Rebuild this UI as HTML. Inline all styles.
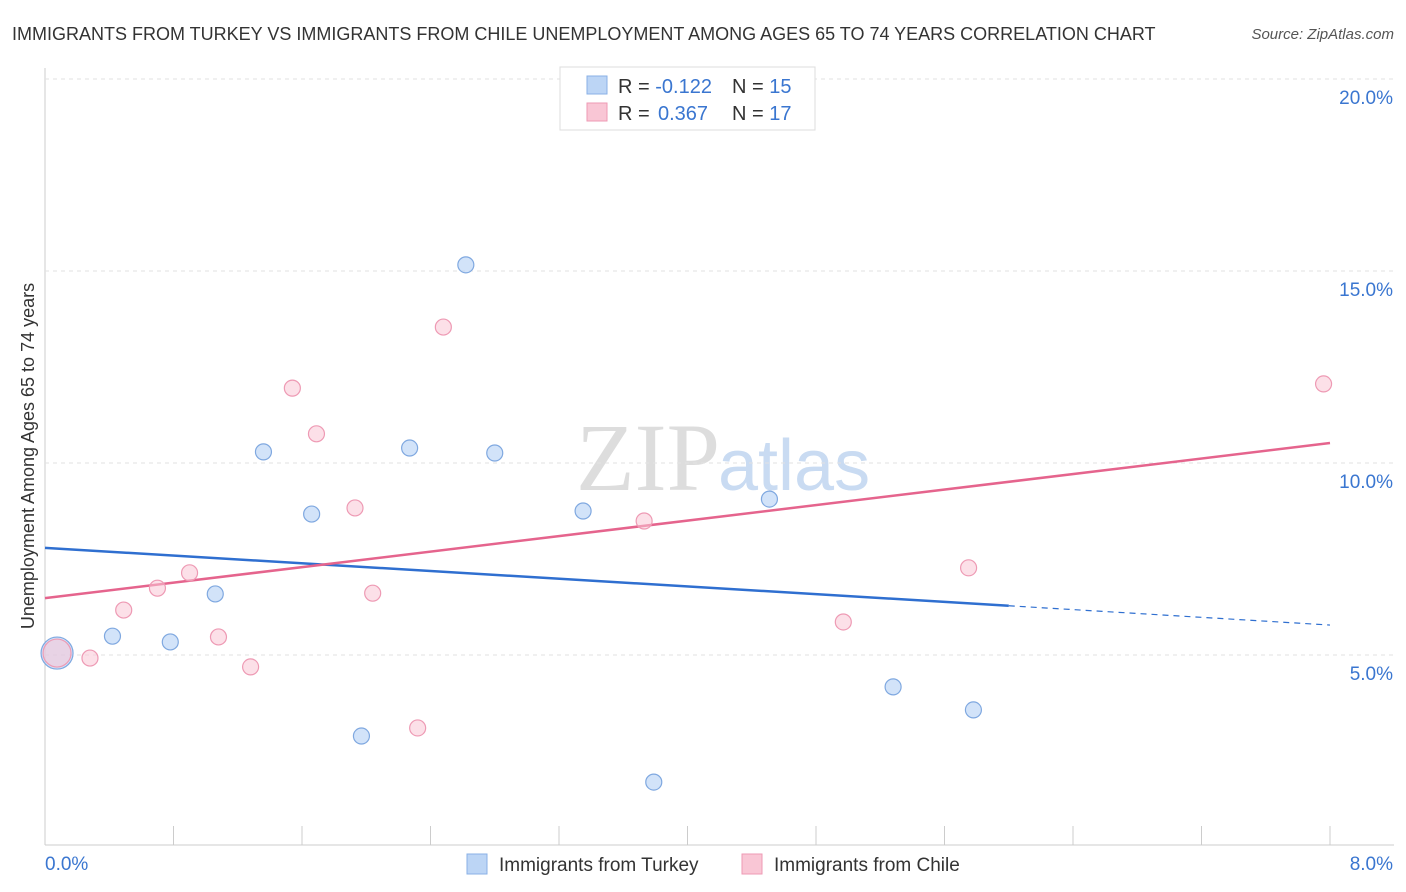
<!DOCTYPE html>
<html><head><meta charset="utf-8"><style>
body{margin:0;background:#fff;font-family:"Liberation Sans",sans-serif;}
svg{display:block}
</style></head><body>
<svg id="chart" width="1406" height="892">
<text x="12" y="40" font-size="18" fill="#333">IMMIGRANTS FROM TURKEY VS IMMIGRANTS FROM CHILE UNEMPLOYMENT AMONG AGES 65 TO 74 YEARS CORRELATION CHART</text>
<text x="1394" y="39" font-size="15" fill="#555" font-style="italic" text-anchor="end">Source: ZipAtlas.com</text>
<text x="720" y="490" font-size="96" fill="#ddd" font-family="Liberation Serif,serif" text-anchor="end">ZIP</text>
<text x="718" y="490" font-size="72" fill="#c9dbf2">atlas</text>
<text transform="translate(34,456) rotate(-90)" font-size="18" fill="#333" text-anchor="middle">Unemployment Among Ages 65 to 74 years</text>
<g id="grid"></g><g id="lines"></g><g id="pts"></g>
<g>
<rect x="560" y="67" width="255" height="63" fill="#fff" stroke="#ddd"/>
<rect x="587" y="76" width="20" height="18" fill="#bcd5f5" stroke="#8ab0e6"/>
<rect x="587" y="103" width="20" height="18" fill="#f9c6d5" stroke="#ee9ab4"/>
<text x="618" y="93" font-size="20" fill="#333">R = <tspan fill="#3a76d0">-0.122</tspan><tspan x="732">N = </tspan><tspan fill="#3a76d0">15</tspan></text>
<text x="618" y="120" font-size="20" fill="#333">R = <tspan fill="#3a76d0" x="658">0.367</tspan><tspan x="732">N = </tspan><tspan fill="#3a76d0">17</tspan></text>
</g>
<g>
<rect x="467" y="854" width="20" height="20" fill="#bcd5f5" stroke="#8ab0e6"/>
<text x="499" y="871" font-size="19" fill="#333">Immigrants from Turkey</text>
<rect x="742" y="854" width="20" height="20" fill="#f9c6d5" stroke="#ee9ab4"/>
<text x="774" y="871" font-size="19" fill="#333">Immigrants from Chile</text>
</g>
</svg>
<script>
const turkeyX=[0.075,0.42,0.78,1.06,1.36,1.66,1.97,2.27,2.62,2.80,3.35,3.79,4.51,5.28,5.78];
const turkeyY=[5.05,5.49,5.34,6.59,10.29,8.67,2.89,10.39,15.16,10.26,8.75,1.69,9.06,4.17,3.57];
const chileX=[0.075,0.28,0.49,0.70,0.90,1.08,1.28,1.54,1.69,1.93,2.04,2.32,2.48,3.73,4.97,5.75,7.96];
const chileY=[5.05,4.92,6.17,6.74,7.14,5.47,4.69,11.95,10.76,8.83,6.61,3.10,13.54,8.49,5.86,7.27,12.06];
const turkeyTrend=[7.79,5.78];
const chileTrend=[6.48,10.52];
const yTicks=[5,10,15,20];
const xTickLabels=["0.0%","8.0%"];
const NS="http://www.w3.org/2000/svg";
const X=v=>45+v*1285/8, Y=v=>847-v*38.4;
function mk(t,a,p){const e=document.createElementNS(NS,t);for(const k in a)e.setAttribute(k,a[k]);p.appendChild(e);return e;}
const g=document.getElementById('grid');
mk('line',{x1:45,y1:68,x2:45,y2:845,stroke:'#ccc'},g);
mk('line',{x1:45,y1:845,x2:1394,y2:845,stroke:'#ccc'},g);
for(let i=0;i<=10;i++){const x=X(i*0.8);const l=mk('line',{x1:x,y1:826,x2:x,y2:845,stroke:'#ccc'},g);}
yTicks.forEach(v=>{const l=mk('line',{x1:45,y1:Y(v),x2:1394,y2:Y(v),stroke:'#e2e2e2','stroke-dasharray':'4,4'},g);

const t=mk('text',{x:1393,y:Y(v)+25,'font-size':19,fill:'#3a76d0','text-anchor':'end'},g);t.textContent=v.toFixed(1)+'%';
});
const t0=mk('text',{x:45,y:870,'font-size':19,fill:'#3a76d0'},g);t0.textContent=xTickLabels[0];

const t1=mk('text',{x:1393,y:870,'font-size':19,fill:'#3a76d0','text-anchor':'end'},g);t1.textContent=xTickLabels[1];

const L=document.getElementById('lines');
const ty=x=>turkeyTrend[0]+(turkeyTrend[1]-turkeyTrend[0])*x/8;
const b1=mk('line',{x1:X(0),y1:Y(ty(0)),x2:X(6),y2:Y(ty(6)),stroke:'#2f6fd0','stroke-width':2.5},L);

const b2=mk('line',{x1:X(6),y1:Y(ty(6)),x2:X(8),y2:Y(ty(8)),stroke:'#2f6fd0','stroke-width':1.2,'stroke-dasharray':'6,5'},L);

const p1=mk('line',{x1:X(0),y1:Y(chileTrend[0]),x2:X(8),y2:Y(chileTrend[1]),stroke:'#e5648d','stroke-width':2.5},L);

const P=document.getElementById('pts');
turkeyX.forEach((x,i)=>{const c=mk('circle',{cx:X(x),cy:Y(turkeyY[i]),r:i==0?16:8,fill:'rgba(180,208,245,0.6)',stroke:'#7fa8e0','stroke-width':1.2},P);
});
chileX.forEach((x,i)=>{const c=mk('circle',{cx:X(x),cy:Y(chileY[i]),r:i==0?14:8,fill:'rgba(249,198,213,0.55)',stroke:'#ee9ab4','stroke-width':1.2},P);
});
</script>
</body></html>
